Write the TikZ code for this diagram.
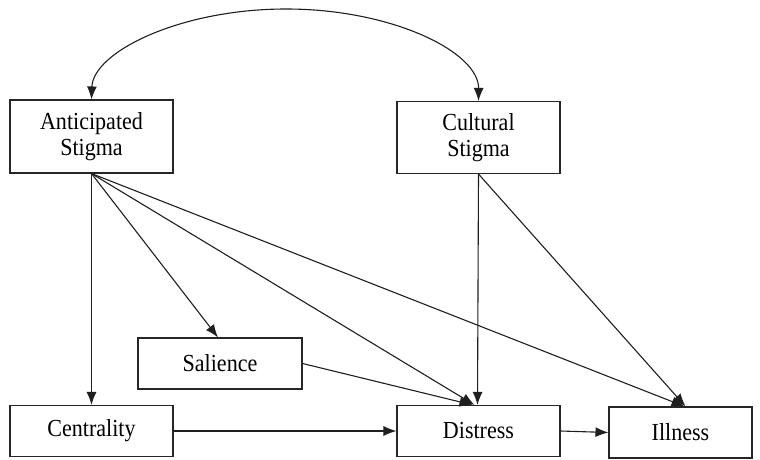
\documentclass[tikz,border=0pt]{standalone}
\usepackage{fontspec}
\setmainfont[FakeStretch=0.9]{Liberation Serif}
\usetikzlibrary{arrows.meta}
\begin{document}
\begin{tikzpicture}[x=1pt,y=-1pt,
  box/.style={draw=black!85,line width=1.1pt,inner sep=0pt,align=center,
    font=\fontsize{24.5}{26}\selectfont},
  conn/.style={draw=black!88,line width=1.1pt,-{Latex[length=13pt,width=10pt]}}]
\useasboundingbox (0,0) rectangle (760,460);
\node[box,minimum width=163pt,minimum height=73pt] (ant) at (91.5,136.5) {Anticipated\\Stigma};
\node[box,minimum width=163pt,minimum height=72pt] (cul) at (478.5,137.5) {Cultural\\Stigma};
\node[box,minimum width=164pt,minimum height=51pt] (sal) at (220,363.5) {Salience};
\node[box,minimum width=163pt,minimum height=51pt] (cen) at (91.5,431) {Centrality};
\node[box,minimum width=163pt,minimum height=51pt] (dis) at (478.5,431) {Distress};
\node[box,minimum width=143pt,minimum height=51pt] (ill) at (680.5,432.5) {Illness};
\coordinate (top) at (286,9);
\draw[conn,{Latex[length=13pt,width=10pt]}-{Latex[length=13pt,width=10pt]}]
  (ant.north) .. controls (93,52) and (180,9) .. (top)
  .. controls (392,9) and (479,52) .. (cul.north);
\draw[conn] (ant.south) -- (cen.north);
\draw[conn] (ant.south) -- ([xshift=-2pt]sal.north);
\draw[conn] (ant.south) -- ([xshift=-4pt]dis.north);
\draw[conn] (ant.south) -- ([xshift=4pt]ill.north);
\draw[conn] (sal.east) -- ([xshift=-6pt]dis.north);
\draw[conn] (cul.south) -- ([xshift=-1pt]dis.north);
\draw[conn] (cul.south) -- ([xshift=5pt]ill.north);
\draw[conn] (cen.east) -- (dis.west);
\draw[conn] (dis.east) -- (ill.west);
\end{tikzpicture}
\end{document}
